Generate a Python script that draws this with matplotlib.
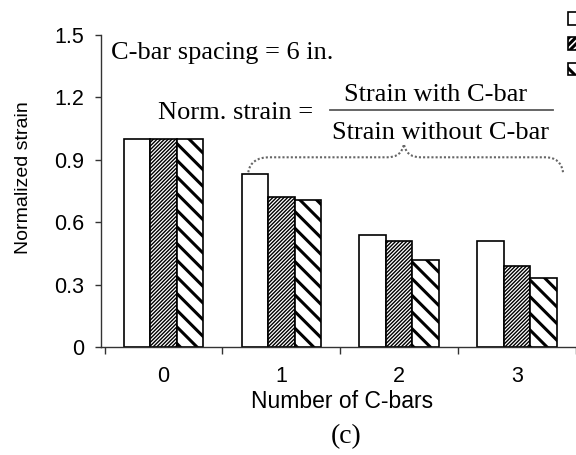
import numpy as np
import matplotlib.pyplot as plt
from matplotlib.path import Path
from matplotlib.patches import PathPatch

# normalized strain for each gauge vs. number of C-bars
n_cbars = [0, 1, 2, 3]
gauge_1 = [1.00, 0.83, 0.54, 0.51]
gauge_2 = [1.00, 0.72, 0.51, 0.39]
gauge_3 = [1.00, 0.705, 0.42, 0.33]
series_labels = ['Gauge 1', 'Gauge 2', 'Gauge 3']
yticks = [0, 0.3, 0.6, 0.9, 1.2, 1.5]
ytick_labels = ['0', '0.3', '0.6', '0.9', '1.2', '1.5']

sans = 'Liberation Sans'
serif = 'Liberation Serif'

fig = plt.figure(figsize=(5.76, 4.55), dpi=100)
ax = fig.add_axes([0.1753, 0.2374, 0.8247, 0.6857])

x = np.array(n_cbars)
w = 0.225

plt.rcParams['hatch.linewidth'] = 1.0
ax.bar(x - w, gauge_1, w, color='white', edgecolor='black', lw=1.2,
       label=series_labels[0])
plt.rcParams['hatch.linewidth'] = 1.0
ax.bar(x, gauge_2, w, color='white', edgecolor='black', lw=1.2,
       hatch='/////////', label=series_labels[1])
plt.rcParams['hatch.linewidth'] = 2.2
ax.bar(x + w, gauge_3, w, color='white', edgecolor='black', lw=1.2,
       hatch='\\\\', label=series_labels[2])

ax.set_xlim(-0.53, 3.5)
ax.set_ylim(0, 1.5)
for s in ['top', 'right']:
    ax.spines[s].set_visible(False)
for s in ['left', 'bottom']:
    ax.spines[s].set_color('0.2')
    ax.spines[s].set_linewidth(1.0)

ax.set_yticks(yticks)
ax.set_yticklabels(ytick_labels, fontfamily=sans, fontsize=15.5)
ax.tick_params(axis='y', direction='out', length=4, width=1, color='0.2', pad=8)

ax.set_xticks(x)
ax.set_xticklabels([str(v) for v in n_cbars], fontfamily=sans, fontsize=15.5)
ax.set_xticks(np.arange(-0.5, 3.6, 1.0), minor=True)
ax.tick_params(axis='x', which='major', length=0, pad=14)
ax.tick_params(axis='x', which='minor', direction='out', length=5, width=1, color='0.2')

ax.set_ylabel('Normalized strain', fontfamily=sans, fontsize=14)
ax.yaxis.set_label_coords(-0.146, 0.542)
fig.text(342 / 576, 1 - 408 / 455, 'Number of C-bars', fontfamily=sans,
         fontsize=16.5, ha='center', va='baseline')
fig.text(346 / 576, 1 - 443 / 455, '(c)', fontfamily=serif, fontsize=20,
         ha='center', va='baseline')

# annotations
fig.text(111 / 576, 1 - 59 / 455, 'C-bar spacing = 6 in.', fontfamily=serif,
         fontsize=19, ha='left', va='baseline')
fig.text(158 / 576, 1 - 119 / 455, 'Norm. strain =', fontfamily=serif,
         fontsize=19, ha='left', va='baseline')
fig.text(436 / 576, 1 - 101 / 455, 'Strain with C-bar', fontfamily=serif,
         fontsize=19, ha='center', va='baseline')
fig.text(441 / 576, 1 - 139 / 455, 'Strain without C-bar', fontfamily=serif,
         fontsize=19, ha='center', va='baseline')
fig.add_artist(plt.Line2D([330 / 576, 553 / 576], [1 - 110 / 455] * 2,
                          color='0.35', lw=1.3))

# dotted brace over the C-bar groups
verts = [(0.72, 0.84), (0.74, 0.912), (0.90, 0.912), (1.90, 0.912),
         (2.02, 0.912), (2.04, 0.975), (2.06, 0.912), (2.18, 0.912),
         (3.24, 0.912), (3.37, 0.912), (3.39, 0.84)]
codes = [Path.MOVETO, Path.CURVE3, Path.CURVE3, Path.LINETO,
         Path.CURVE3, Path.CURVE3, Path.CURVE3, Path.CURVE3,
         Path.LINETO, Path.CURVE3, Path.CURVE3]
ax.add_patch(PathPatch(Path(verts, codes), fill=False, edgecolor='0.4',
                       lw=1.5, linestyle=(0, (1, 1)), clip_on=False))

# legend sits at the right edge; only the swatches fit on the figure
leg = ax.legend(loc='upper left', bbox_to_anchor=(568 / 576, 1 - 12 / 455),
                bbox_transform=fig.transFigure, frameon=False,
                prop={'family': sans, 'size': 13}, handlelength=0.7,
                handleheight=0.7, labelspacing=0.45, borderaxespad=0,
                borderpad=0, handletextpad=0.5)
for t in leg.get_texts():
    t.set_visible(False)
leg.legend_handles[1].set_hatch('/////')

fig.savefig('out.png', dpi=100)
